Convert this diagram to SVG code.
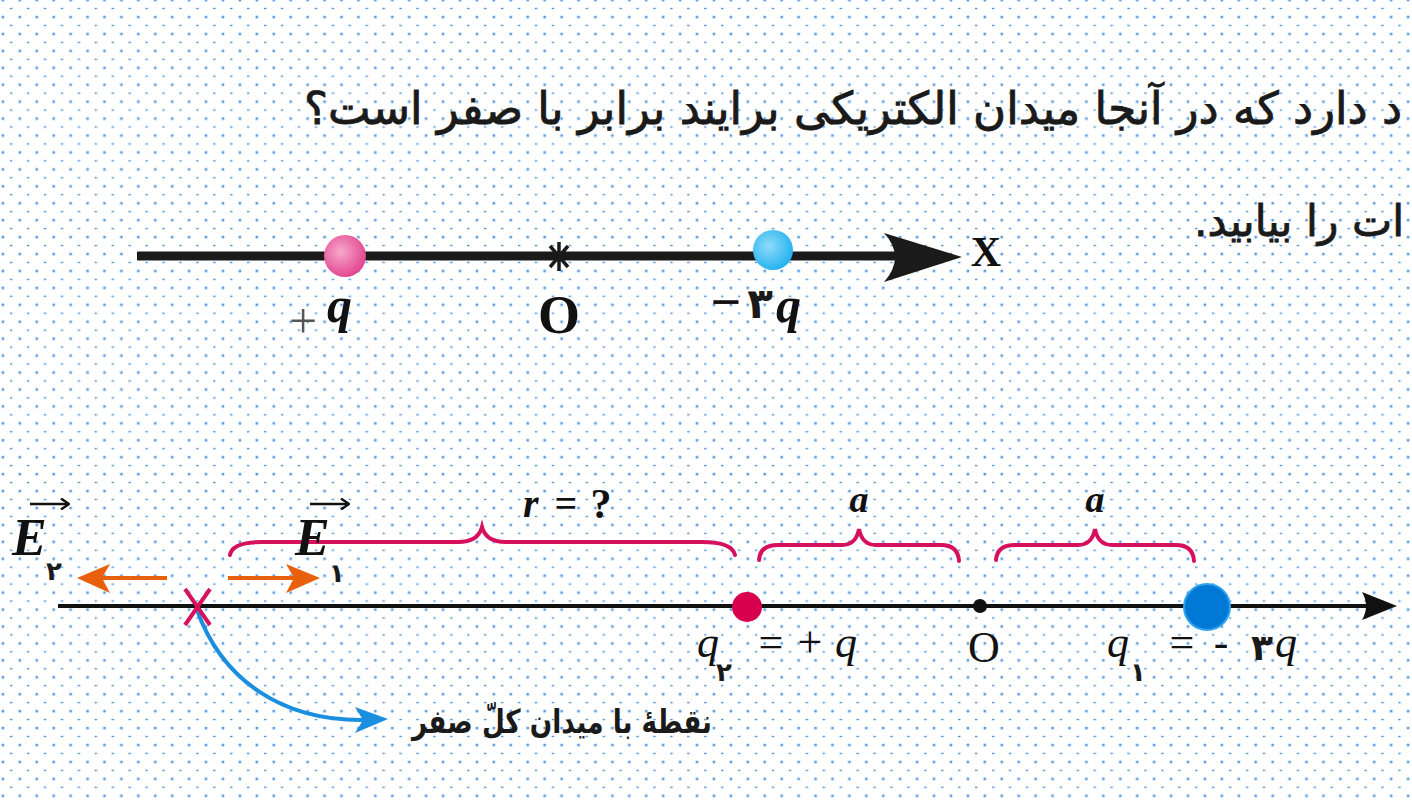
<svg xmlns="http://www.w3.org/2000/svg" width="1412" height="800" viewBox="0 0 1412 800">
<defs>
<pattern id="dots" x="0" y="0" width="16.93" height="16.93" patternUnits="userSpaceOnUse">
<rect x="1.6" y="-1.2" width="2.6" height="2.6" fill="#5d9de0"/>
<rect x="1.6" y="15.73" width="2.6" height="2.6" fill="#5d9de0"/>
<rect x="10" y="7.8" width="2.4" height="1.4" fill="#4b90d8"/>
</pattern>
<radialGradient id="pinkG" cx="0.4" cy="0.4" r="0.65">
<stop offset="0" stop-color="#f6a9cb"/>
<stop offset="1" stop-color="#e2408c"/>
</radialGradient>
<radialGradient id="cyanG" cx="0.4" cy="0.4" r="0.65">
<stop offset="0" stop-color="#8fdcfa"/>
<stop offset="1" stop-color="#1fb0ee"/>
</radialGradient>
<marker id="vecHead" markerWidth="10" markerHeight="12" refX="9" refY="6" orient="auto" markerUnits="userSpaceOnUse">
<path d="M1,0.5 L9,6 L1,11.5" fill="none" stroke="#111" stroke-width="2.4"/>
</marker>
</defs>
<style>
.fa{font-family:"DejaVu Sans",sans-serif;fill:#1a1a1a}
.fat{stroke:#1a1a1a;stroke-width:0.9}
.m{font-family:"Liberation Serif",serif;fill:#111}
.mi{font-family:"Liberation Serif",serif;font-style:italic;fill:#111}
.brace{fill:none;stroke:#d6105c;stroke-width:4;stroke-linecap:round}
.orange{fill:none;stroke:#e8600c;stroke-width:4}
.vec{stroke:#111;stroke-width:2.4;fill:none}
</style>
<rect width="1412" height="800" fill="#ffffff"/>
<rect width="1412" height="800" fill="url(#dots)"/>

<g id="question-text">
<text class="fa fat" x="304" y="124" direction="rtl" text-anchor="end" font-size="45" textLength="1098" lengthAdjust="spacingAndGlyphs">د دارد  که در آنجا میدان الکتریکی برایند برابر با صفر است؟</text>
<text class="fa fat" x="1194" y="236" direction="rtl" text-anchor="end" font-size="43" textLength="210" lengthAdjust="spacingAndGlyphs">ات را بیابید.</text>
</g>

<g id="top-axis">
<line x1="137" y1="256" x2="900" y2="256" stroke="#1a1a1a" stroke-width="9"/>
<path d="M884,233 L962,257 L884,282 Q906,257 884,233 Z" fill="#1a1a1a"/>
<text class="m" x="986" y="266" font-size="42" font-weight="bold" text-anchor="middle">X</text>
</g>

<g id="top-charge-plus">
<circle cx="345" cy="256" r="21" fill="url(#pinkG)"/>
<text class="m" x="303" y="338" font-size="50" text-anchor="middle" style="fill:#555">+</text>
<text class="mi" x="327" y="322" font-size="50" font-weight="bold">q</text>
</g>

<g id="top-origin">
<path d="M559,242 L559,271 M550,246 L568,267 M568,246 L550,267" stroke="#1a1a1a" stroke-width="3.5" fill="none"/>
<text class="m" x="559" y="333" font-size="54" font-weight="bold" text-anchor="middle">O</text>
</g>

<g id="top-charge-minus">
<circle cx="773" cy="250" r="20" fill="url(#cyanG)"/>
<text class="m" x="726" y="320" font-size="54" font-weight="bold" text-anchor="middle">−</text>
<text class="fa" x="760" y="318" font-size="42" font-weight="bold" text-anchor="middle">۳</text>
<text class="mi" x="776" y="322" font-size="50" font-weight="bold">q</text>
</g>

<g id="bottom-axis">
<line x1="58" y1="606" x2="1372" y2="606" stroke="#111" stroke-width="4"/>
<path d="M1362,592 L1397,606 L1362,620 Q1370,606 1362,592 Z" fill="#111"/>
</g>

<g id="connectors">
<path class="brace" d="M230,555 Q232,542 262,542 L458,542 Q478,542 482,527 Q486,542 506,542 L702,542 Q732,542 735,555"/>
<path class="brace" d="M759,560 Q760,545 778,545 L842,545 Q856,545 859,529 Q862,545 876,545 L941,545 Q958,545 959,561"/>
<path class="brace" d="M996,560 Q997,545 1015,545 L1078,545 Q1092,545 1095,529 Q1098,545 1112,545 L1176,545 Q1193,545 1194,561"/>
<line class="orange" x1="167" y1="578" x2="100" y2="578"/>
<path d="M77,578 L110,564 L102,578 L110,593 Z" fill="#e8600c"/>
<line class="orange" x1="228" y1="578" x2="296" y2="578"/>
<path d="M320,578 L286,564 L294,578 L286,593 Z" fill="#e8600c"/>
<path d="M197,610 C222,680 282,721 364,720" fill="none" stroke="#1a8fe0" stroke-width="4"/>
<path d="M388,719 L355,707 L363,720 L355,733 Z" fill="#1a8fe0"/>
<line class="vec" x1="30" y1="504" x2="69" y2="504" marker-end="url(#vecHead)"/>
<line class="vec" x1="310" y1="504" x2="349" y2="504" marker-end="url(#vecHead)"/>
</g>

<g id="label-r">
<text class="mi" x="523" y="517" font-size="40" font-weight="bold">r</text>
<text class="m" x="566" y="517" font-size="40" font-weight="bold" text-anchor="middle">=</text>
<text class="m" x="601" y="518" font-size="42" font-weight="bold" text-anchor="middle">?</text>
</g>
<g id="label-a1"><text class="mi" x="859" y="512" font-size="38" font-weight="bold" text-anchor="middle">a</text></g>
<g id="label-a2"><text class="mi" x="1095" y="512" font-size="38" font-weight="bold" text-anchor="middle">a</text></g>

<g id="E2">
<text class="mi" x="12" y="555" font-size="52" font-weight="bold">E</text>
<text class="fa" x="54" y="580" font-size="26" font-weight="bold" text-anchor="middle">۲</text>
</g>
<g id="E1">
<text class="mi" x="295" y="555" font-size="52" font-weight="bold">E</text>
<text class="fa" x="337" y="582" font-size="26" font-weight="bold" text-anchor="middle">۱</text>
</g>

<g id="zero-point">
<path d="M185,589 L210,625 M210,589 L185,625" stroke="#d6125a" stroke-width="4" fill="none"/>
</g>

<g id="q2">
<circle cx="747" cy="607" r="15" fill="#d8004c"/>
<text class="mi" x="697" y="657" font-size="44">q</text>
<text class="fa" x="724" y="681" font-size="26" font-weight="bold" text-anchor="middle">۲</text>
<text class="m" x="771" y="657" font-size="44" text-anchor="middle">=</text>
<text class="m" x="810" y="657" font-size="44" text-anchor="middle">+</text>
<text class="mi" x="835" y="657" font-size="44">q</text>
</g>

<g id="origin-O">
<circle cx="980" cy="606" r="7" fill="#111"/>
<text class="m" x="984" y="662" font-size="44" text-anchor="middle">O</text>
</g>

<g id="q1">
<circle cx="1207" cy="607" r="23" fill="#0078d6" stroke="#2fa4ee" stroke-width="2"/>
<text class="mi" x="1107" y="657" font-size="44">q</text>
<text class="fa" x="1138" y="681" font-size="26" font-weight="bold" text-anchor="middle">۱</text>
<text class="m" x="1182" y="657" font-size="44" text-anchor="middle">=</text>
<text class="m" x="1221" y="657" font-size="44" text-anchor="middle">-</text>
<text class="fa" x="1262" y="660" font-size="36" font-weight="bold" text-anchor="middle">۳</text>
<text class="mi" x="1275" y="657" font-size="44">q</text>
</g>

<g id="zero-label">
<text class="fa" x="412" y="733" direction="rtl" text-anchor="end" font-size="33" font-weight="bold" textLength="300" lengthAdjust="spacingAndGlyphs">نقطهٔ با میدان کلّ صفر</text>
</g>
</svg>
